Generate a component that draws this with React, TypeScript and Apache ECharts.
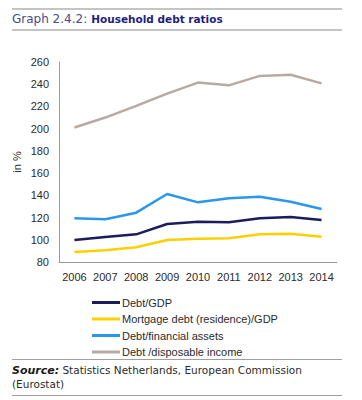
import React, { useEffect, useRef } from "react";
import * as echarts from "echarts";

const years = ["2006", "2007", "2008", "2009", "2010", "2011", "2012", "2013", "2014"];
const debtGdp = [99.8, 102.5, 104.9, 114.2, 116.3, 115.7, 119.3, 120.5, 117.8];
const mortgageGdp = [89, 90.5, 93.2, 99.8, 101, 101.3, 104.9, 105.5, 102.8];
const debtFinAssets = [119.3, 118.4, 124.4, 141.2, 133.7, 137.3, 138.8, 134.3, 127.7];
const debtDispIncome = [201, 210, 220.5, 231.5, 241.5, 239, 247.5, 248.5, 240.8];
const seriesNames = [
  "Debt/GDP",
  "Mortgage debt (residence)/GDP",
  "Debt/financial assets",
  "Debt /disposable income",
];
const colors = ["#1c1c5c", "#fcd000", "#2a96ec", "#b5aaa4"];

export default function App() {
  const ref = useRef<HTMLDivElement>(null);
  useEffect(() => {
    document.body.style.margin = "0";
    const chart = echarts.init(ref.current!, null, { renderer: "svg" });
    const data = [debtGdp, mortgageGdp, debtFinAssets, debtDispIncome];
    chart.setOption({
      animation: false,
      backgroundColor: "#ffffff",
      grid: { left: 59, top: 62, width: 278, height: 200 },
      xAxis: {
        type: "category",
        data: years,
        boundaryGap: true,
        axisLine: { lineStyle: { color: "#9a9a9a", width: 1 } },
        axisTick: { show: false },
        axisLabel: {
          color: "#2b2b2b",
          fontSize: 11,
          fontFamily: "Liberation Sans",
          margin: 9,
          interval: 0,
          hideOverlap: false,
        },
      },
      yAxis: {
        type: "value",
        min: 80,
        max: 260,
        interval: 20,
        name: "in %",
        nameLocation: "middle",
        nameGap: 37,
        nameMoveOverlap: false,
        nameRotate: 90,
        nameTextStyle: { color: "#2b2b2b", fontSize: 11, fontFamily: "Liberation Sans" },
        axisLine: { show: true, lineStyle: { color: "#9a9a9a", width: 1 } },
        axisTick: { show: false },
        splitLine: { show: false },
        axisLabel: { color: "#2b2b2b", fontSize: 11, fontFamily: "Liberation Sans", margin: 10 },
      },
      legend: {
        orient: "vertical",
        left: 87,
        top: 292,
        itemWidth: 28,
        itemHeight: 3,
        itemGap: 5.5,
        icon: "rect",
        data: seriesNames,
        textStyle: { color: "#2b2b2b", fontSize: 11, fontFamily: "Liberation Sans", padding: [0, 0, 0, -3] },
      },
      series: seriesNames.map((n, i) => ({
        name: n,
        type: "line",
        data: data[i],
        showSymbol: false,
        symbol: "none",
        lineStyle: { color: colors[i], width: 2.5 },
        itemStyle: { color: colors[i] },
      })),
      graphic: [
        { type: "line", shape: { x1: 12, y1: 9, x2: 342, y2: 9 }, style: { stroke: "#b0b0b0", lineWidth: 1.5 } },
        { type: "line", shape: { x1: 12, y1: 30, x2: 342, y2: 30 }, style: { stroke: "#b0b0b0", lineWidth: 1.5 } },
        {
          type: "text",
          left: 12,
          top: 13,
          style: {
            text: "{a|Graph 2.4.2:}{g| }{b|Household debt ratios}",
            rich: {
              a: { fill: "#4a4a8c", fontSize: 12, fontFamily: "DejaVu Sans" },
              g: { width: 4, fontSize: 12 },
              b: { fill: "#1e1e7c", fontSize: 10.5, fontWeight: "bold", fontFamily: "DejaVu Sans" },
            },
          },
        },
        { type: "line", shape: { x1: 12, y1: 359.5, x2: 342, y2: 359.5 }, style: { stroke: "#a0a0a0", lineWidth: 1 } },
        {
          type: "text",
          left: 12,
          top: 363,
          style: {
            text: "{s|Source:} {t|Statistics Netherlands, European Commission}\n{t|(Eurostat)}",
            lineHeight: 14,
            rich: {
              s: { fill: "#1a1a1a", fontSize: 11, fontWeight: "bold", fontStyle: "italic", fontFamily: "DejaVu Sans", lineHeight: 14 },
              t: { fill: "#2b2b2b", fontSize: 10.5, fontFamily: "DejaVu Sans", lineHeight: 14 },
            },
          },
        },
        { type: "line", shape: { x1: 12, y1: 395.5, x2: 342, y2: 395.5 }, style: { stroke: "#a0a0a0", lineWidth: 1 } },
      ],
    });
    return () => chart.dispose();
  }, []);
  return <div ref={ref} style={{ width: 362, height: 400 }} />;
}
